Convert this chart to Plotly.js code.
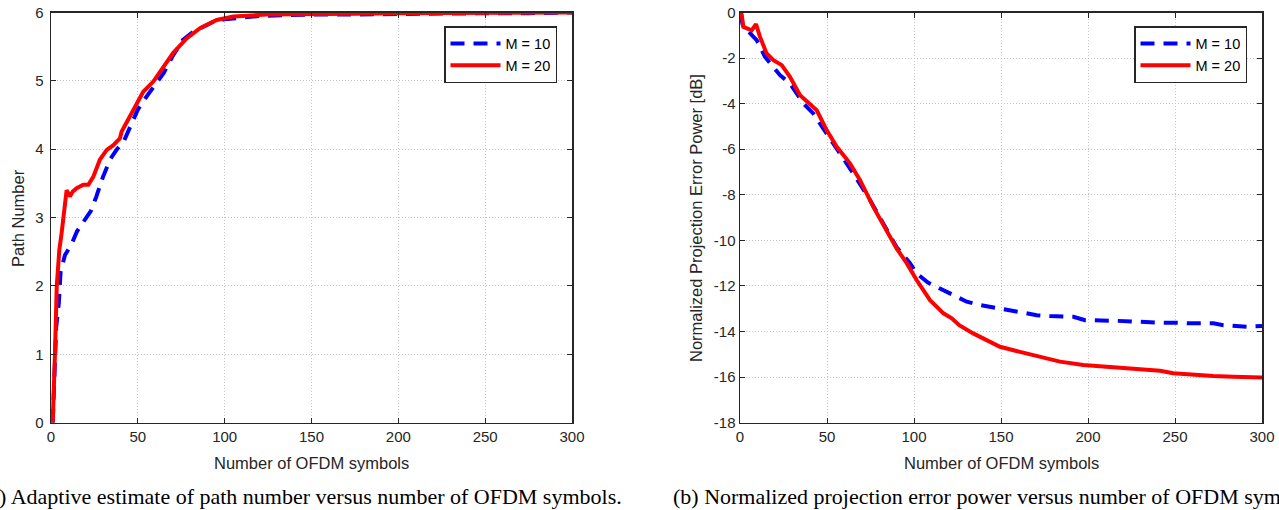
<!DOCTYPE html>
<html>
<head>
<meta charset="utf-8">
<script src="https://cdn.plot.ly/plotly-3.0.1.min.js"></script>
<style>
html,body{margin:0;padding:0;background:#fff;}
#chart{width:1279px;height:510px;}
</style>
</head>
<body>
<div id="chart"></div>
<script>
// ---- Data: (a) path number ----
const pathX_M10 = [1, 2, 3, 4.5, 5.5, 8, 12, 15, 19, 23, 26, 30, 34, 38, 42, 46, 50, 55, 60, 65, 70, 76, 82, 88, 94, 100, 110, 120, 135, 150, 175, 200, 225, 250, 275, 300];
const pathY_M10 = [0, 0.9, 1.4, 1.75, 2.2, 2.45, 2.62, 2.8, 2.95, 3.1, 3.3, 3.6, 3.85, 4.0, 4.12, 4.35, 4.58, 4.77, 4.95, 5.12, 5.36, 5.6, 5.72, 5.8, 5.87, 5.9, 5.93, 5.95, 5.96, 5.97, 5.97, 5.98, 5.98, 5.99, 5.99, 6.0];
const pathX_M20 = [1, 1.5, 2.3, 3.3, 4.8, 6.1, 7.5, 9, 10.9, 12.5, 14.8, 18.6, 21.5, 24.4, 28.2, 32.1, 35.9, 39.7, 40.7, 45.5, 49.3, 53.1, 58.9, 64.7, 70.4, 78.1, 85.8, 95.4, 105, 124, 150, 175, 200, 250, 300];
const pathY_M20 = [0, 0.3, 1.02, 1.99, 2.53, 2.77, 3.1, 3.4, 3.31, 3.38, 3.43, 3.48, 3.48, 3.6, 3.85, 3.99, 4.06, 4.16, 4.26, 4.48, 4.67, 4.84, 4.99, 5.19, 5.41, 5.62, 5.77, 5.89, 5.94, 5.97, 5.97, 5.98, 5.99, 5.99, 6.0];

// ---- Data: (b) normalized projection error power [dB] ----
const errX_M10 = [0, 1, 2, 5, 9.6, 14.4, 19, 23, 28.7, 32, 36.4, 42.1, 49.8, 57.5, 65.1, 74.7, 84.3, 90, 97.7, 101.5, 108, 114.9, 120.7, 130.3, 138, 149.4, 159, 170.5, 178, 191.6, 198.3, 210.7, 216.5, 229.9, 239.5, 251, 258.6, 272, 277.8, 291.2, 300];
const errY_M10 = [0, -0.3, -0.7, -0.85, -1.21, -1.95, -2.4, -2.75, -3.11, -3.5, -3.99, -4.43, -5.31, -6.18, -7.06, -8.23, -9.55, -10.3, -11.0, -11.45, -11.85, -12.11, -12.32, -12.69, -12.84, -12.98, -13.13, -13.28, -13.32, -13.35, -13.5, -13.5, -13.53, -13.57, -13.61, -13.61, -13.64, -13.64, -13.72, -13.79, -13.76];
const errX_M20 = [0.5, 1, 1.9, 4.8, 6.7, 9.2, 11.5, 15.3, 19.2, 24, 28.7, 34.5, 40.2, 44.1, 49.8, 55.6, 63.2, 69, 76.6, 84.3, 90, 95.8, 101.5, 109.2, 116.9, 121.7, 126, 134, 141.8, 149.4, 160.9, 172.4, 183.9, 197.3, 208.8, 216.5, 229.9, 241.4, 249, 260.5, 272, 283.5, 298.9, 300];
const errY_M20 = [0, -0.1, -0.63, -0.7, -0.78, -0.51, -1.07, -1.8, -2.09, -2.31, -2.82, -3.63, -3.99, -4.29, -5.16, -5.89, -6.62, -7.36, -8.53, -9.55, -10.35, -11.0, -11.74, -12.62, -13.2, -13.42, -13.72, -14.08, -14.37, -14.67, -14.89, -15.11, -15.32, -15.47, -15.54, -15.61, -15.69, -15.72, -15.83, -15.91, -15.95, -15.98, -16.01, -16.02];

// ---- Labels / ticks ----
const seriesNames = ["M = 10", "M = 20"];
const xTickVals = [0, 50, 100, 150, 200, 250, 300];
const xTickText = ["0", "50", "100", "150", "200", "250", "300"];
const pathTickVals = [0, 1, 2, 3, 4, 5, 6];
const pathTickText = ["0", "1", "2", "3", "4", "5", "6"];
const errTickVals = [0, -2, -4, -6, -8, -10, -12, -14, -16, -18];
const errTickText = ["0", "-2", "-4", "-6", "-8", "-10", "-12", "-14", "-16", "-18"];
const xTitle = "Number of OFDM symbols";
const yTitleA = "Path Number";
const yTitleB = "Normalized Projection Error Power [dB]";
const captionA = "(a) Adaptive estimate of path number versus number of OFDM symbols.";
const captionB = "(b) Normalized projection error power versus number of OFDM symbols.";

const W = 1279, H = 510;
const px = v => v / W;
const py = v => 1 - v / H;

const FONT = "Liberation Sans, Arial, Helvetica, sans-serif";
const SERIF = "Liberation Serif, Times New Roman, serif";
const AX = '#262626';
const blueLine = {color: '#0000ff', width: 4, dash: '14px,9px'};
const redLine = {color: '#ff0000', width: 4};

const traces = [
  {x: pathX_M10, y: pathY_M10, name: seriesNames[0], mode: 'lines', line: blueLine, xaxis: 'x', yaxis: 'y', legend: 'legend'},
  {x: pathX_M20, y: pathY_M20, name: seriesNames[1], mode: 'lines', line: redLine, xaxis: 'x', yaxis: 'y', legend: 'legend'},
  {x: errX_M10, y: errY_M10, name: seriesNames[0], mode: 'lines', line: blueLine, xaxis: 'x2', yaxis: 'y2', legend: 'legend2'},
  {x: errX_M20, y: errY_M20, name: seriesNames[1], mode: 'lines', line: redLine, xaxis: 'x2', yaxis: 'y2', legend: 'legend2'}
];

function axisBase(extra) {
  return Object.assign({
    showline: true, linecolor: AX, linewidth: 1.5, mirror: 'ticks',
    ticks: 'inside', ticklen: 5, tickwidth: 1, tickcolor: AX,
    showgrid: true, gridcolor: '#c4c4c4', griddash: '1px,2px', gridwidth: 1,
    zeroline: false, tickfont: {family: FONT, size: 15, color: AX},
    tickmode: 'array', fixedrange: true
  }, extra);
}

const yDom = [py(422.7), py(12.5)];
const legendBase = {xanchor: 'right', y: py(26), yanchor: 'top', bgcolor: '#fff', bordercolor: AX, borderwidth: 1.5,
                    font: {family: FONT, size: 14.5, color: '#000'}, tracegroupgap: 0, itemwidth: 50};

const layout = {
  width: W, height: H,
  margin: {l: 0, r: 0, t: 0, b: 0},
  paper_bgcolor: '#fff', plot_bgcolor: '#fff',
  showlegend: true,
  xaxis: axisBase({domain: [px(51), px(572)], range: [0, 300], tickvals: xTickVals, ticktext: xTickText, anchor: 'y'}),
  yaxis: axisBase({domain: yDom, range: [0, 6], tickvals: pathTickVals, ticktext: pathTickText, anchor: 'x', ticklabelstandoff: 3}),
  xaxis2: axisBase({domain: [px(740), px(1262)], range: [0, 300], tickvals: xTickVals, ticktext: xTickText, anchor: 'y2'}),
  yaxis2: axisBase({domain: yDom, range: [-18, 0], tickvals: errTickVals, ticktext: errTickText, anchor: 'x2', ticklabelstandoff: 0}),
  legend: Object.assign({x: px(557)}, legendBase),
  legend2: Object.assign({x: px(1247)}, legendBase),
  annotations: [
    {text: xTitle, xref: 'paper', yref: 'paper', x: px(311), y: py(463), xanchor: 'center', yanchor: 'middle', showarrow: false, font: {family: FONT, size: 16.5, color: AX}},
    {text: xTitle, xref: 'paper', yref: 'paper', x: px(1001), y: py(463), xanchor: 'center', yanchor: 'middle', showarrow: false, font: {family: FONT, size: 16.5, color: AX}},
    {text: yTitleA, xref: 'paper', yref: 'paper', x: px(18), y: py(218), xanchor: 'center', yanchor: 'middle', textangle: -90, showarrow: false, font: {family: FONT, size: 16.5, color: AX}},
    {text: yTitleB, xref: 'paper', yref: 'paper', x: px(696), y: py(218), xanchor: 'center', yanchor: 'middle', textangle: -90, showarrow: false, font: {family: FONT, size: 16.5, color: AX}},
    {text: captionA, xref: 'paper', yref: 'paper', x: px(624), y: py(496), xanchor: 'right', yanchor: 'middle', showarrow: false, font: {family: SERIF, size: 22, color: '#000'}},
    {text: captionB, xref: 'paper', yref: 'paper', x: px(671), y: py(496), xanchor: 'left', yanchor: 'middle', showarrow: false, font: {family: SERIF, size: 22, color: '#000'}}
  ]
};

Plotly.newPlot('chart', traces, layout, {displayModeBar: false, staticPlot: true});
</script>
</body>
</html>
